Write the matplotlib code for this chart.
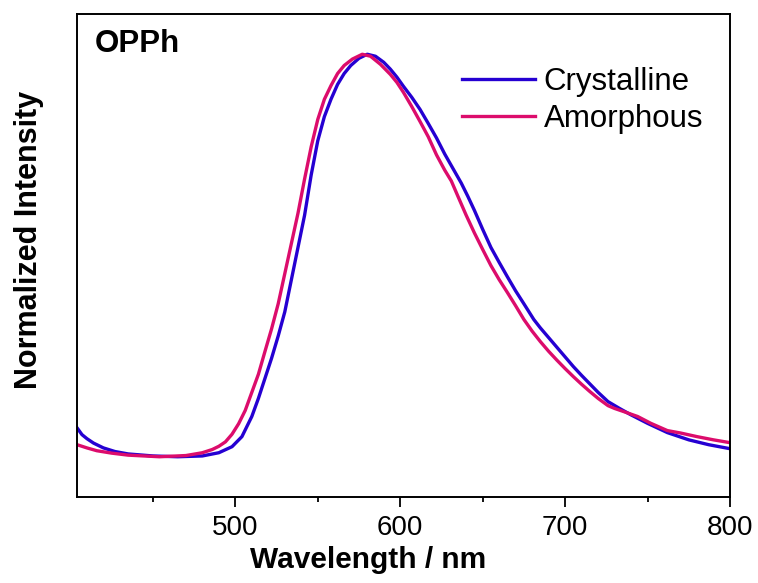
import numpy as np
import matplotlib.pyplot as plt
from matplotlib.ticker import MultipleLocator

plt.rcParams['font.family'] = ['Liberation Sans', 'DejaVu Sans']

# normalized PL spectra, read as (wavelength nm, intensity)
wl_cryst = [404, 407, 410, 414, 420, 427, 435, 450, 465, 480, 490, 498, 504, 510,
            514, 518, 522, 526, 530, 534, 538, 542, 546, 550, 554, 558, 562, 566,
            570, 575, 580, 585, 590, 594, 598, 602, 607, 612, 617, 622, 627, 632,
            637, 641, 645, 650, 655, 660, 665, 670, 675, 681, 685, 690, 695, 700,
            705, 710, 715, 720, 726, 733, 740, 750, 762, 775, 787, 800]
int_cryst = [0.072, 0.055, 0.045, 0.034, 0.022, 0.013, 0.007, 0.002, 0.000, 0.002,
             0.010, 0.025, 0.050, 0.100, 0.145, 0.195, 0.245, 0.300, 0.360, 0.440,
             0.520, 0.600, 0.700, 0.785, 0.845, 0.888, 0.925, 0.952, 0.972, 0.990,
             1.000, 0.995, 0.980, 0.963, 0.943, 0.920, 0.893, 0.863, 0.828, 0.792,
             0.752, 0.716, 0.680, 0.647, 0.612, 0.565, 0.520, 0.483, 0.447, 0.412,
             0.380, 0.341, 0.320, 0.296, 0.272, 0.248, 0.224, 0.202, 0.181, 0.160,
             0.137, 0.120, 0.104, 0.083, 0.060, 0.042, 0.030, 0.020]

wl_amor = [404, 410, 416, 425, 435, 454, 470, 480, 486, 490, 494, 498, 502, 506,
           510, 514, 518, 522, 526, 530, 534, 538, 542, 546, 550, 554, 558, 562,
           566, 571, 577, 582, 588, 594, 598, 602, 607, 612, 617, 622, 627, 631,
           635, 640, 645, 650, 655, 660, 665, 670, 675, 680, 685, 690, 695, 700,
           705, 710, 715, 720, 726, 730, 735, 744, 752, 762, 770, 780, 790, 800]
int_amor = [0.030, 0.022, 0.015, 0.009, 0.004, 0.000, 0.003, 0.010, 0.018, 0.026,
            0.037, 0.056, 0.082, 0.115, 0.160, 0.205, 0.262, 0.318, 0.380, 0.455,
            0.530, 0.605, 0.690, 0.770, 0.838, 0.888, 0.922, 0.952, 0.972, 0.988,
            1.000, 0.995, 0.975, 0.950, 0.930, 0.905, 0.870, 0.833, 0.795, 0.750,
            0.712, 0.685, 0.647, 0.600, 0.556, 0.515, 0.475, 0.440, 0.408, 0.375,
            0.341, 0.312, 0.286, 0.262, 0.240, 0.219, 0.199, 0.180, 0.162, 0.145,
            0.127, 0.120, 0.113, 0.100, 0.083, 0.065, 0.059, 0.050, 0.042, 0.035]

labels = ['Crystalline', 'Amorphous']
colors = ['#2500D2', '#DC0C6C']

fig = plt.figure(figsize=(7.58, 5.83), dpi=100)
ax = fig.add_axes([0.1016, 0.1475, 0.8615, 0.8285])

ax.plot(wl_cryst, int_cryst, color=colors[0], lw=2.4, label=labels[0],
        solid_joinstyle='round')
ax.plot(wl_amor, int_amor, color=colors[1], lw=2.4, label=labels[1],
        solid_joinstyle='round')

ax.set_xlim(404, 800)
ax.set_ylim(-0.1, 1.1)
ax.xaxis.set_major_locator(MultipleLocator(100))
ax.xaxis.set_minor_locator(MultipleLocator(50))
ax.set_yticks([])
ax.tick_params(axis='x', which='major', length=7, width=1.3, labelsize=20, pad=6)
ax.tick_params(axis='x', which='minor', length=3.6, width=1.3)
for s in ax.spines.values():
    s.set_linewidth(1.4)

ax.set_xlabel('Wavelength / nm', fontsize=21.5, fontweight='bold')
ax.xaxis.set_label_coords(0.4456, -0.101)
ax.set_ylabel('Normalized Intensity', fontsize=22, fontweight='bold')
ax.yaxis.set_label_coords(-0.05, 0.532)

ax.text(0.027, 0.968, 'OPPh', transform=ax.transAxes, fontsize=22.5,
        fontweight='bold', va='top', ha='left')

ax.legend(loc='upper left', bbox_to_anchor=(0.5896, 0.891), frameon=False,
          fontsize=22.5, handlelength=2.35, handletextpad=0.26, labelspacing=0.24,
          borderpad=0, borderaxespad=0)

fig.savefig('out.png', dpi=100)
